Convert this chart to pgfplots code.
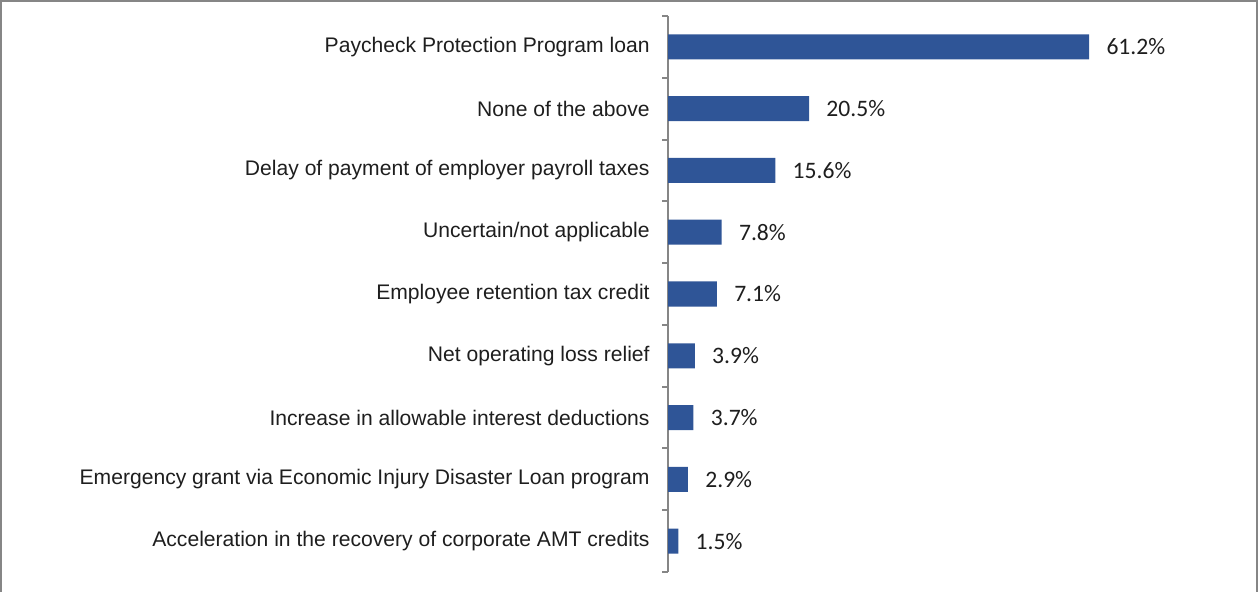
\documentclass[border=0pt]{standalone}
\usepackage{fontspec}
\setmainfont{Liberation Sans}
\newfontfamily\calib{Carlito}
\usepackage{pgfplots}
\pgfplotsset{compat=1.18}
\definecolor{barblue}{HTML}{2F5597}
\definecolor{axgray}{HTML}{868686}
\definecolor{txt}{HTML}{1E1E1E}
\begin{document}
\begin{tikzpicture}
\useasboundingbox (0,0) rectangle (629bp,296bp);
\draw[axgray, line width=1bp] (0.5bp,0) -- (0.5bp,295.5bp) -- (628.5bp,295.5bp) -- (628.5bp,0);
\begin{axis}[
  at={(334bp,10bp)}, anchor=south west,
  scale only axis, width=283.5bp, height=278bp,
  xmin=0, xmax=82.4, ymin=-0.5, ymax=8.5,
  axis x line=none,
  axis y line*=left,
  y axis line style={-, axgray, line width=1bp},
  xtick=\empty,
  ytick={0,...,8},
  yticklabels={Acceleration in the recovery of corporate AMT credits,
    Emergency grant via Economic Injury Disaster Loan program,
    Increase in allowable interest deductions,
    Net operating loss relief,
    Employee retention tax credit,
    Uncertain/not applicable,
    Delay of payment of employer payroll taxes,
    None of the above,
    Paycheck Protection Program loan},
  minor ytick={-0.5,0.5,...,8.5},
  major tick length=0pt,
  minor tick length=3bp,
  tick align=outside,
  minor tick style={axgray, line width=1bp},
  yticklabel style={font=\fontsize{10.55bp}{12bp}\selectfont, text=txt, inner sep=0pt, xshift=-9bp},
  /pgf/number format/assume math mode=true,
  xbar, bar width=12.5bp,
  nodes near coords={\pgfmathprintnumber[fixed,fixed zerofill,precision=1]{\pgfplotspointmeta}\%},
  nodes near coords style={font=\calib\fontsize{11.8bp}{13bp}\selectfont, text=txt, anchor=west, inner sep=0pt, xshift=8.5bp},
]
\addplot[fill=barblue, draw=none] coordinates {
  (1.5,0) (2.9,1) (3.7,2) (3.9,3) (7.1,4) (7.8,5) (15.6,6) (20.5,7) (61.2,8)
};
\end{axis}
\end{tikzpicture}
\end{document}
